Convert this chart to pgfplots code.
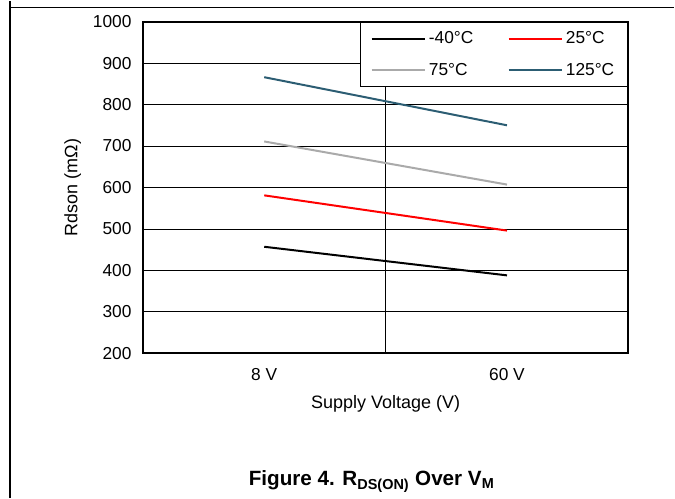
\documentclass[border=0pt]{standalone}
\usepackage{pgfplots}
\pgfplotsset{compat=1.18}
\usepackage{fontspec}
\setmainfont{Liberation Sans}
\definecolor{darkteal}{RGB}{44,93,115}
\definecolor{lightgray}{RGB}{170,170,170}

\begin{document}
\begin{tikzpicture}
% page frame (1 px = 0.75pt)
\path (0pt,0pt) rectangle (506.25pt,373.5pt);
\draw[line width=1pt] (7.5pt,0pt) -- (7.5pt,373.5pt);
\draw[line width=1pt] (7.5pt,368.25pt) -- (506.25pt,368.25pt);
\begin{axis}[
    at={(107.25pt,108.75pt)}, anchor=south west,
    scale only axis,
    width=364.5pt, height=249pt,
    xmin=-0.5, xmax=1.5,
    ymin=200, ymax=1000,
    ytick={200,300,...,1000},
    xtick={0,1},
    xticklabels={8 V,60 V},
    extra x ticks={0.5},
    extra x tick labels={},
    extra x tick style={grid=major, major grid style={black, line width=0.6pt}, major tick length=0pt},
    major tick length=0pt,
    ymajorgrids=true,
    grid style={black, line width=0.6pt},
    axis line style={black, line width=1.5pt},
    tick label style={font=\fontsize{13}{15}\selectfont},
    label style={font=\fontsize{13.5}{16}\selectfont},
    /pgf/number format/assume math mode=true,
    /pgf/number format/1000 sep={},
    xlabel={Supply Voltage (V)},
    ylabel={Rdson (mΩ)},
    xlabel style={yshift=-4pt},
    ylabel style={yshift=2pt},
    yticklabel style={xshift=-5pt},
    xticklabel style={yshift=-8pt},
    legend columns=2,
    legend cell align=left,
    legend style={at={(1,1)}, anchor=north east, draw=black, line width=1.2pt,
        fill=white, font=\fontsize{13}{15}\selectfont,
        inner xsep=8pt, inner ysep=5pt,
        /tikz/every even column/.append style={column sep=24pt},
        row sep=9pt},
    legend image code/.code={\draw[#1, line width=1.5pt] (0pt,0pt) -- (37pt,0pt);
        \path (0pt,0pt) -- (40pt,0pt);},
]
\addplot[black, line width=1.5pt] coordinates {(0,457) (1,388)};
\addlegendentry{-40°C}
\addplot[red, line width=1.5pt] coordinates {(0,581) (1,496)};
\addlegendentry{25°C}
\addplot[lightgray, line width=1.5pt] coordinates {(0,711) (1,607)};
\addlegendentry{75°C}
\addplot[darkteal, line width=1.5pt] coordinates {(0,866) (1,750)};
\addlegendentry{125°C}
\end{axis}
\node[font=\bfseries\fontsize{15.5}{18}\selectfont] at (279pt,12.75pt)
    {Figure 4. R\textsubscript{DS(ON)} Over V\textsubscript{M}};
\end{tikzpicture}
\end{document}
